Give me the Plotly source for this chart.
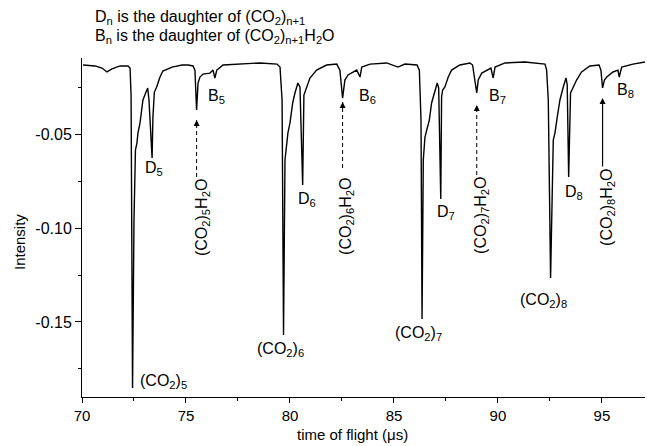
import plotly.graph_objects as go

# ---- spectrum (time of flight in us, intensity) ----
tof_us = [70.05, 70.63, 70.96, 71.20, 71.44, 71.83, 72.21, 72.31, 72.36, 72.43,
          72.50, 72.57, 72.64, 72.69, 72.79, 72.87, 72.93, 73.06, 73.16, 73.22,
          73.32, 73.37, 73.41, 73.48, 73.59, 73.75, 73.89, 74.33, 74.81,
          75.10, 75.34, 75.43, 75.51, 75.58, 75.67, 75.82, 76.15, 76.30, 76.39,
          76.48, 76.78, 77.60, 78.56, 79.38, 79.52, 79.62, 79.69, 79.76, 79.84,
          79.90, 80.00, 80.13, 80.24, 80.38, 80.48, 80.56, 80.61, 80.67, 80.80,
          80.96, 81.28, 81.76, 82.25, 82.40, 82.53, 82.64, 82.79, 83.21, 83.37,
          83.45, 83.85, 84.65, 85.19, 85.53, 86.11, 86.22, 86.30, 86.35, 86.41,
          86.49, 86.60, 86.70, 86.81, 86.97, 87.08, 87.15, 87.21, 87.25, 87.29,
          87.34, 87.45, 87.61, 87.77, 88.17, 88.65, 88.78, 88.98, 89.05, 89.22,
          89.46, 89.66, 89.77, 89.86, 90.34, 91.30, 92.26, 92.34, 92.42, 92.53,
          92.66, 92.74, 92.85, 92.98, 93.14, 93.27, 93.33, 93.40, 93.49, 93.59,
          93.78, 94.02, 94.42, 94.86, 94.95, 95.03, 95.12, 95.23, 95.53, 95.77,
          95.83, 95.95, 96.49, 97.07]
intensity = [-0.0133, -0.0138, -0.0149, -0.0170, -0.0154, -0.0138, -0.0138, -0.0149, -0.0293, -0.1851,
             -0.0957, -0.0585, -0.0548, -0.0495, -0.0441, -0.0362, -0.0319, -0.0282, -0.0255, -0.0319,
             -0.0559, -0.0628, -0.0410, -0.0277, -0.0250, -0.0197, -0.0165, -0.0144, -0.0133,
             -0.0133, -0.0138, -0.0160, -0.0372, -0.0229, -0.0197, -0.0181, -0.0176, -0.0160, -0.0202,
             -0.0160, -0.0133, -0.0128, -0.0122, -0.0128, -0.0144, -0.0319, -0.1569, -0.0638, -0.0532,
             -0.0495, -0.0441, -0.0335, -0.0282, -0.0229, -0.0250, -0.0585, -0.0771, -0.0293, -0.0250,
             -0.0202, -0.0160, -0.0133, -0.0128, -0.0160, -0.0309, -0.0213, -0.0186, -0.0160, -0.0197,
             -0.0144, -0.0128, -0.0122, -0.0144, -0.0128, -0.0133, -0.0160, -0.0426, -0.1484, -0.0638,
             -0.0516, -0.0468, -0.0426, -0.0335, -0.0266, -0.0229, -0.0255, -0.0585, -0.0846, -0.0303,
             -0.0266, -0.0250, -0.0197, -0.0160, -0.0133, -0.0122, -0.0133, -0.0282, -0.0213, -0.0176,
             -0.0160, -0.0149, -0.0202, -0.0144, -0.0122, -0.0117, -0.0128, -0.0160, -0.0319, -0.1266,
             -0.0532, -0.0495, -0.0410, -0.0319, -0.0250, -0.0202, -0.0239, -0.0729, -0.0282, -0.0255,
             -0.0213, -0.0170, -0.0138, -0.0133, -0.0160, -0.0255, -0.0213, -0.0197, -0.0170, -0.0160,
             -0.0197, -0.0144, -0.0128, -0.0117]

# ---- tick labels ----
x_tickvals = [70, 75, 80, 85, 90, 95]
x_ticktext = ["70", "75", "80", "85", "90", "95"]
y_tickvals = [-0.15, -0.10, -0.05]
y_ticktext = ["-0.15", "-0.10", "-0.05"]

# ---- peak labels ----
parent_text = ["(CO<sub>2</sub>)<sub>5</sub>", "(CO<sub>2</sub>)<sub>6</sub>",
               "(CO<sub>2</sub>)<sub>7</sub>", "(CO<sub>2</sub>)<sub>8</sub>"]
parent_x = [73.94, 79.52, 86.20, 92.21]
parent_y = [-0.1819, -0.1644, -0.1559, -0.1388]

d_text = ["D<sub>5</sub>", "D<sub>6</sub>", "D<sub>7</sub>", "D<sub>8</sub>"]
d_x = [73.46, 80.82, 87.50, 93.65]
d_y = [-0.0686, -0.0846, -0.0915, -0.0809]

b_text = ["B<sub>5</sub>", "B<sub>6</sub>", "B<sub>7</sub>", "B<sub>8</sub>"]
b_x = [76.49, 83.75, 90.00, 96.15]
b_y = [-0.0298, -0.0298, -0.0298, -0.0271]

water_text = ["(CO<sub>2</sub>)<sub>5</sub>H<sub>2</sub>O", "(CO<sub>2</sub>)<sub>6</sub>H<sub>2</sub>O",
              "(CO<sub>2</sub>)<sub>7</sub>H<sub>2</sub>O", "(CO<sub>2</sub>)<sub>8</sub>H<sub>2</sub>O"]
water_peak_x = [75.51, 82.53, 88.98, 95.03]
water_label_x = [75.77, 82.74, 89.18, 95.29]
water_label_y = [-0.0947, -0.0936, -0.0931, -0.0888]
arrow_tip = [-0.0426, -0.0330, -0.0346, -0.0309]
arrow_tail = [-0.0729, -0.0681, -0.0718, -0.0681]
arrow_dashed = [True, True, True, False]

legend_lines = ["D<sub>n</sub> is the daughter of (CO<sub>2</sub>)<sub>n+1</sub>",
                "B<sub>n</sub> is the daughter of (CO<sub>2</sub>)<sub>n+1</sub>H<sub>2</sub>O"]

FONT = "Arial, Liberation Sans, Helvetica, sans-serif"

fig = go.Figure()
fig.add_trace(go.Scatter(x=tof_us, y=intensity, mode="lines",
                         line=dict(color="black", width=1.4), hoverinfo="skip",
                         showlegend=False))

ann = []
for t, x, y in zip(parent_text, parent_x, parent_y):
    ann.append(dict(x=x, y=y, text=t, showarrow=False, xref="x", yref="y",
                    xanchor="center", yanchor="middle"))
for t, x, y in zip(d_text + b_text, d_x + b_x, d_y + b_y):
    ann.append(dict(x=x, y=y, text=t, showarrow=False, xref="x", yref="y",
                    xanchor="center", yanchor="middle"))
for t, lx, ly in zip(water_text, water_label_x, water_label_y):
    ann.append(dict(x=lx, y=ly, text=t, showarrow=False, xref="x", yref="y",
                    textangle=-90, xanchor="center", yanchor="middle"))

shapes = []
for px, tip, tail, dashed in zip(water_peak_x, arrow_tip, arrow_tail, arrow_dashed):
    if dashed:
        shapes.append(dict(type="line", xref="x", yref="y", x0=px, x1=px,
                           y0=tail, y1=tip, line=dict(color="black", width=1, dash="4px,3px")))
        ann.append(dict(x=px, y=tip, ax=0, ay=7, xref="x", yref="y", text="",
                        showarrow=True, arrowhead=2, arrowsize=1, arrowwidth=1.2,
                        arrowcolor="black", standoff=0))
    else:
        ann.append(dict(x=px, y=tip, ax=px, ay=tail, xref="x", yref="y",
                        axref="x", ayref="y", text="", showarrow=True, arrowhead=2,
                        arrowsize=1, arrowwidth=1.2, arrowcolor="black", standoff=0))

ann.append(dict(x=0.0195, y=1.118, xref="paper", yref="paper", text=legend_lines[0],
                showarrow=False, xanchor="left", yanchor="middle"))
ann.append(dict(x=0.0195, y=1.062, xref="paper", yref="paper", text=legend_lines[1],
                showarrow=False, xanchor="left", yanchor="middle"))
ann.append(dict(x=0.48, y=-0.1400, xref="paper", yref="paper", text="time of flight (\u03bcs)",
                showarrow=False, xanchor="center", yanchor="bottom", borderpad=0,
                font=dict(size=15)))
ann.append(dict(x=-0.112, y=0.457, xref="paper", yref="paper", text="Intensity",
                showarrow=False, textangle=-90, xanchor="center", yanchor="middle",
                font=dict(size=15)))

fig.update_layout(
    width=647, height=446,
    margin=dict(l=82, r=2, t=58, b=49),
    paper_bgcolor="white", plot_bgcolor="white",
    font=dict(family=FONT, size=16, color="black"),
    annotations=ann, shapes=shapes, showlegend=False,
)
fig.update_xaxes(range=[70, 97.07], tickvals=x_tickvals, ticktext=x_ticktext,
                 ticks="outside", ticklen=5,
                 tickwidth=1, tickcolor="black", showline=True, linecolor="black",
                 linewidth=1, showgrid=False, zeroline=False,
                 minor=dict(tick0=70, dtick=2.5, ticks="outside", ticklen=3,
                            tickcolor="black", showgrid=False),
                 tickfont=dict(size=15))
fig.update_yaxes(range=[-0.1899, -0.00957], tickvals=y_tickvals, ticktext=y_ticktext,
                 ticks="outside", ticklen=6, tickwidth=1, tickcolor="black",
                 showline=True, linecolor="black", linewidth=1, showgrid=False,
                 zeroline=False,
                 minor=dict(tick0=0, dtick=0.025, ticks="outside", ticklen=3,
                            tickcolor="black", showgrid=False),
                 tickfont=dict(size=16))

fig.write_html("out.html", config={"displayModeBar": False},
               post_script="document.body.style.margin='0';document.body.style.padding='0';")
